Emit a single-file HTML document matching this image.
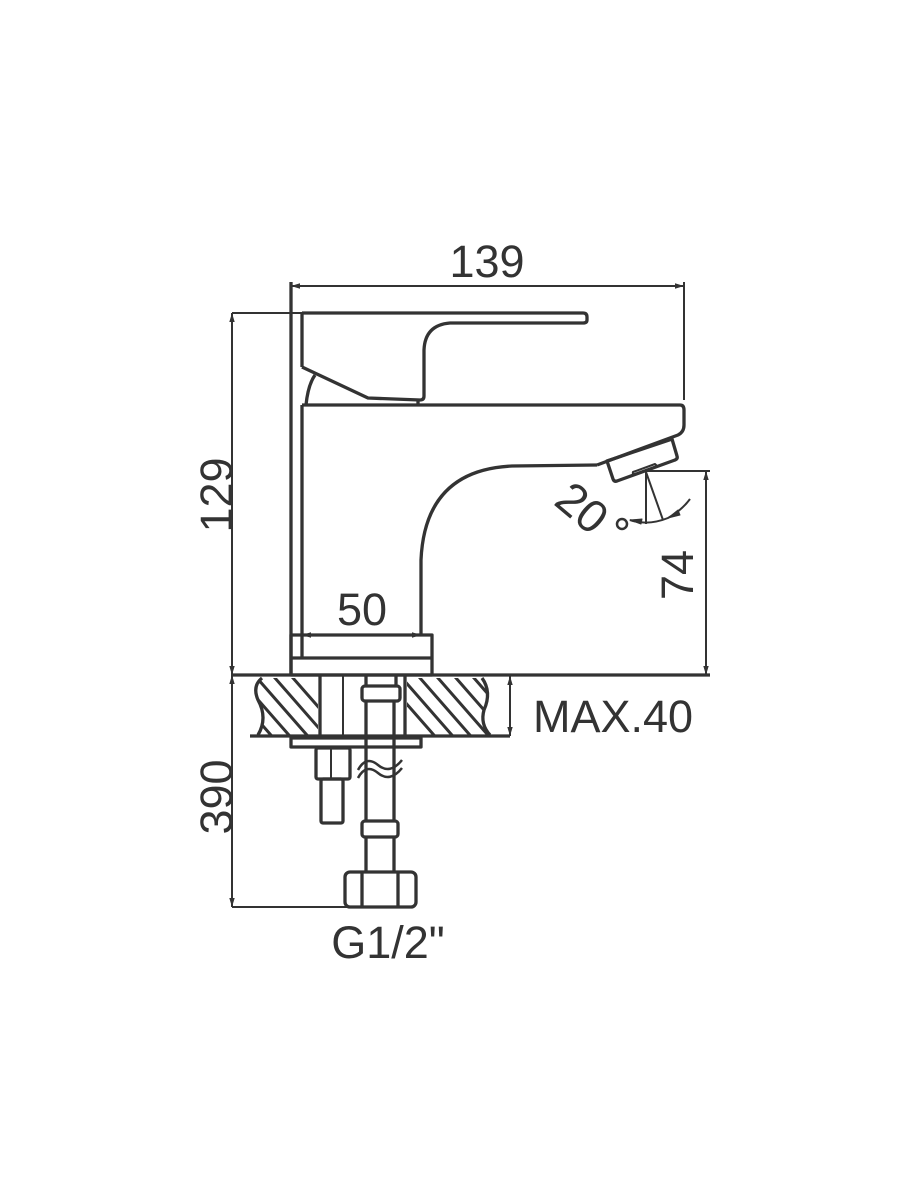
<!DOCTYPE html>
<html><head><style>html,body{margin:0;padding:0;background:#fff}svg{display:block}</style></head>
<body>
<svg width="900" height="1200" viewBox="0 0 900 1200" xmlns="http://www.w3.org/2000/svg">
<defs>
<marker id="a" viewBox="0 0 10 10" refX="10" refY="5" markerWidth="9" markerHeight="9" orient="auto-start-reverse" markerUnits="userSpaceOnUse"><path d="M0,2 L10,5 L0,8 z" fill="#333"/></marker>
<clipPath id="cl"><path d="M262,678 L318,678 L318,735 L258,735 Q268,718 258,700 Q252,686 262,678 Z"/></clipPath>
<clipPath id="cr"><path d="M407,678 L482,678 Q492,692 484,710 Q480,724 490,735 L407,735 Z"/></clipPath>
</defs>
<g stroke="#333" stroke-width="3.3" fill="none" stroke-linejoin="round">
<line x1="291" y1="286" x2="684" y2="286" marker-start="url(#a)" marker-end="url(#a)" stroke-width="2"/>
<line x1="291" y1="282" x2="291" y2="675"/>
<line x1="684" y1="282" x2="684" y2="400" stroke-width="2"/>
<line x1="232" y1="313" x2="302" y2="313" stroke-width="2"/>
<line x1="232" y1="313" x2="232" y2="675" marker-start="url(#a)" marker-end="url(#a)" stroke-width="2"/>
<line x1="232" y1="675" x2="232" y2="907" marker-start="url(#a)" marker-end="url(#a)" stroke-width="2"/>
<line x1="232" y1="907" x2="348" y2="907" stroke-width="2"/>
<line x1="232" y1="675" x2="710" y2="675"/>
<line x1="302" y1="313" x2="302" y2="367"/>
<path d="M302,313 L583,313 Q587,313 587,317 L587,320 Q587,323 583,323 L450,323 Q425,325 424,350 L424,396 Q424,400 420,400 L368,398 L302,367"/>
<path d="M306,405 Q308,385 315,375"/>
<line x1="418" y1="400" x2="418" y2="405"/>
<path d="M302,405 L680,405 Q684,405 684,410 L684,425 Q684,432 678,435 L597,465"/>
<line x1="302" y1="405" x2="302" y2="658"/>
<path d="M597,465 L512,466 Q425,470 421,560 L421,635"/>
<path d="M607,461 L672,439 L677,456 Q678,459 675,460 L617,481 Q614,482 613,479 Z"/>
<path d="M633,472 L655,464 Q658,466 654,468 L636,474 Q632,475 633,472 Z" stroke-width="2"/>
<rect x="291" y="635" width="141" height="40"/>
<line x1="291" y1="658" x2="432" y2="658"/>
<line x1="302" y1="635" x2="421" y2="635" marker-start="url(#a)" marker-end="url(#a)" stroke-width="2"/>
<line x1="646" y1="471" x2="710" y2="471" stroke-width="2"/>
<line x1="706" y1="471" x2="706" y2="675" marker-start="url(#a)" marker-end="url(#a)" stroke-width="2"/>
<line x1="646" y1="472" x2="646" y2="524" stroke-width="2"/>
<line x1="646" y1="472" x2="663" y2="520" stroke-width="2"/>
<path d="M630,520 Q648,526 668,518 Q682,510 690,499" stroke-width="2"/>
<path d="M630,520 L642,519 L641,524 Z" fill="#333" stroke-width="1"/>
<path d="M668,518 L678,510 L680,515 Z" fill="#333" stroke-width="1"/>
<line x1="250" y1="736" x2="510" y2="736"/>
<path d="M262,678 Q252,686 258,700 Q268,718 258,735"/>
<path d="M482,678 Q492,692 484,710 Q480,724 490,735"/>
<g clip-path="url(#cl)" stroke-width="3">
<line x1="250" y1="670" x2="320" y2="750"/><line x1="268" y1="670" x2="338" y2="750"/><line x1="286" y1="670" x2="356" y2="750"/><line x1="232" y1="670" x2="302" y2="750"/><line x1="214" y1="670" x2="284" y2="750"/>
</g>
<g clip-path="url(#cr)" stroke-width="3">
<line x1="395" y1="670" x2="465" y2="750"/><line x1="413" y1="670" x2="483" y2="750"/><line x1="431" y1="670" x2="501" y2="750"/><line x1="449" y1="670" x2="519" y2="750"/><line x1="467" y1="670" x2="537" y2="750"/><line x1="377" y1="670" x2="447" y2="750"/>
</g>
<line x1="320" y1="676" x2="320" y2="736"/>
<line x1="343" y1="676" x2="343" y2="736" stroke-width="2"/>
<line x1="405" y1="676" x2="405" y2="736"/>
<line x1="510" y1="676" x2="510" y2="736" marker-start="url(#a)" marker-end="url(#a)" stroke-width="2"/>
<rect x="291" y="738" width="130" height="9"/>
<rect x="316" y="748" width="34" height="31" rx="2"/>
<line x1="331" y1="748" x2="331" y2="779" stroke-width="2"/>
<rect x="321" y="779" width="22" height="44" rx="2"/>
<rect x="362" y="686" width="38" height="15" rx="3"/>
<line x1="366" y1="676" x2="366" y2="686"/><line x1="396" y1="676" x2="396" y2="686"/>
<line x1="366" y1="701" x2="366" y2="820"/><line x1="394" y1="701" x2="394" y2="820"/>
<path d="M358,770 Q366,755 378,765 Q390,775 402,760" stroke-width="2.5"/>
<path d="M358,778 Q366,763 378,773 Q390,783 402,768" stroke-width="2.5"/>
<rect x="362" y="821" width="36" height="16" rx="3"/>
<line x1="366" y1="837" x2="366" y2="871"/><line x1="394" y1="837" x2="394" y2="871"/>
<rect x="345" y="872" width="71" height="35" rx="5"/>
<line x1="362" y1="873" x2="362" y2="906"/><line x1="398" y1="873" x2="398" y2="906"/>
</g>
<g fill="#333" font-family="Liberation Sans, sans-serif" font-size="45">
<text x="487" y="277" text-anchor="middle">139</text>
<text x="362" y="625" text-anchor="middle">50</text>
<text x="533" y="732">MAX.40</text>
<text x="388" y="958" text-anchor="middle">G1/2"</text>
<text transform="translate(232,495) rotate(-90)" text-anchor="middle">129</text>
<text transform="translate(232,797) rotate(-90)" text-anchor="middle">390</text>
<text transform="translate(693,575) rotate(-90)" text-anchor="middle">74</text>
<text transform="translate(572,520) rotate(40)" text-anchor="middle" font-size="46">20</text>
</g>
<circle cx="622" cy="524" r="5" fill="none" stroke="#333" stroke-width="2.5"/>
</svg>
</body></html>
